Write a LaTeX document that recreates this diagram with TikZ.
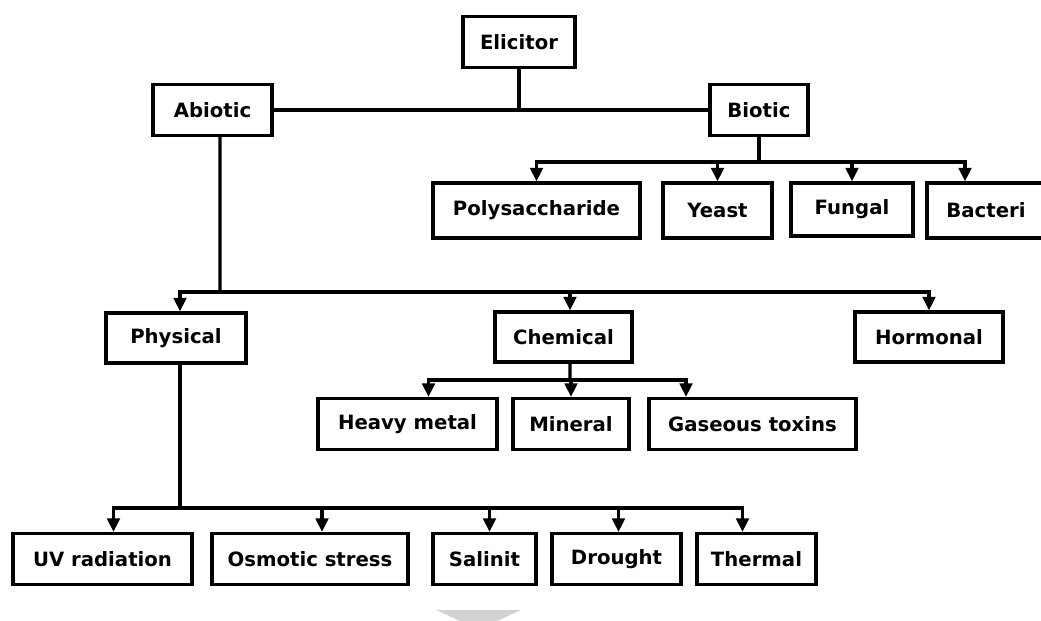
\documentclass[tikz,border=0pt]{standalone}
\usepackage{fontspec}
\setmainfont{DejaVu Sans}
\usetikzlibrary{arrows.meta,calc}

\begin{document}
\begin{tikzpicture}[
  every node/.style={font=\bfseries\fontsize{11.2}{13}\selectfont},
  bx/.style={draw,line width=1.8pt,inner sep=2pt,minimum height=1.02cm,fill=white},
  ln/.style={line width=1.8pt},
  arr/.style={line width=1.8pt,-{Triangle[length=2.7mm,width=2.5mm]}}]
 \useasboundingbox (0,0) rectangle (20.82,-12.42);
 % top level
 \node[bx,minimum width=2.24cm] (eli) at (10.38,-0.84) {Elicitor};
 \node[bx,minimum width=2.38cm] (abio) at (4.25,-2.2) {Abiotic};
 \node[bx,minimum width=1.96cm] (bio) at (15.18,-2.2) {Biotic};
 % biotic
 \node[bx,minimum width=4.14cm,minimum height=1.1cm] (poly) at (10.73,-4.21) {Polysaccharide};
 \node[bx,minimum width=2.18cm,minimum height=1.1cm] (yeast) at (14.35,-4.21) {Yeast};
 \node[bx,minimum width=2.44cm,minimum height=1.06cm] (fung) at (17.04,-4.19) {Fungal};
 \node[bx,minimum width=2.36cm,minimum height=1.1cm] (bact) at (19.72,-4.21) {Bacteri};
 % abiotic
 \node[bx,minimum width=2.8cm,minimum height=1cm] (phys) at (3.52,-6.76) {Physical};
 \node[bx,minimum width=2.74cm,minimum height=1cm] (chem) at (11.27,-6.74) {Chemical};
 \node[bx,minimum width=2.96cm,minimum height=1cm] (horm) at (18.58,-6.74) {Hormonal};
 % chemical
 \node[bx,minimum width=3.58cm] (heavy) at (8.15,-8.48) {Heavy metal};
 \node[bx,minimum width=2.32cm] (mine) at (11.42,-8.48) {Mineral};
 \node[bx,minimum width=4.14cm] (gas) at (15.05,-8.48) {Gaseous toxins};
 % physical
 \node[bx,minimum width=3.58cm] (uv) at (2.05,-11.18) {UV radiation};
 \node[bx,minimum width=3.92cm] (osm) at (6.2,-11.18) {Osmotic stress};
 \node[bx,minimum width=2.06cm] (sal) at (9.69,-11.18) {Salinit};
 \node[bx,minimum width=2.58cm] (drou) at (12.33,-11.18) {Drought};
 \node[bx,minimum width=2.38cm] (therm) at (15.13,-11.18) {Thermal};
 % bus points
 \coordinate (bbus) at (15.18,-3.24);
 \coordinate (abus) at (4.4,-5.84);
 \coordinate (cbus) at (11.4,-7.6);
 \coordinate (pbus) at (3.6,-10.16);
 \draw[ln] (abio) -- (bio);
 \draw[ln] (eli) -- (eli |- abio);
 \draw[ln] (bio) -- (bbus);
 \draw[ln] ([xshift=0.15cm]abio.south) -- (abus);
 \draw[ln] ([xshift=0.13cm]chem.south) -- (cbus);
 \draw[ln] ([xshift=0.08cm]phys.south) -- (pbus);
 \foreach \c in {poly,yeast,fung} \draw[arr] (bbus) -| (\c.north);
 \draw[arr] (bbus) -| ([xshift=-0.42cm]bact.north);
 \draw[arr] (abus) -| ([xshift=0.08cm]phys.north);
 \draw[arr] (abus) -| ([xshift=0.13cm]chem.north);
 \draw[arr] (abus) -| (horm.north);
 \draw[arr] (cbus) -| ([xshift=0.42cm]heavy.north);
 \draw[arr] (cbus) -| (mine.north);
 \draw[arr] (cbus) -| ([xshift=-1.33cm]gas.north);
 \foreach \c/\s in {uv/0.22,osm/0.24,sal/0.1,drou/0.04,therm/-0.28}
   \draw[arr] (pbus) -| ([xshift=\s cm]\c.north);
 % grey arrow head at the foot
 \fill[gray!35] (8.72,-12.2) -- (10.42,-12.2) -- (9.57,-12.59) -- cycle;
\end{tikzpicture}
\end{document}
